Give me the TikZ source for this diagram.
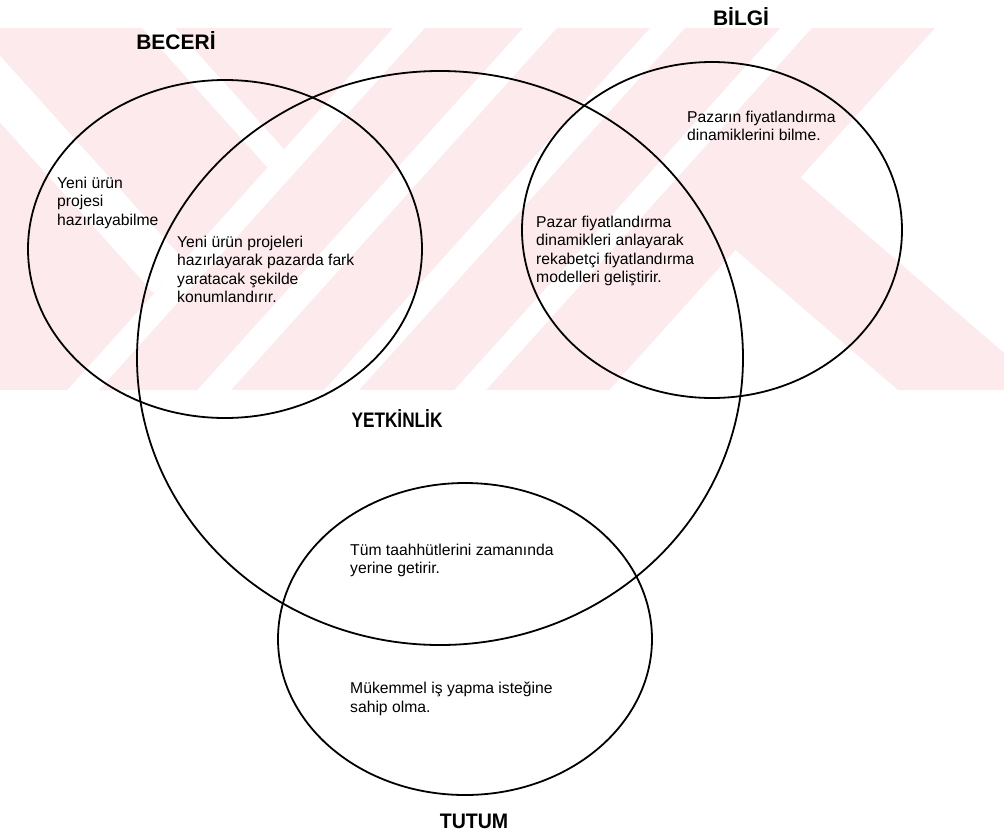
\documentclass[tikz,border=0pt]{standalone}
\usepackage{fontspec}
\setmainfont{Liberation Sans}
\usetikzlibrary{shapes.geometric}
\definecolor{wm}{RGB}{253,234,237}
\begin{document}
\begin{tikzpicture}[x=1pt,y=-1pt,
  venn/.style={draw=black, line width=1.8pt, ellipse, inner sep=0pt},
  txt/.style={anchor=north west, inner sep=0pt, align=left, font=\fontsize{15.7}{18.4}\selectfont},
  lbl/.style={anchor=base, inner sep=0pt, font=\fontsize{21}{24}\selectfont\bfseries}]
\useasboundingbox (0,0) rectangle (1004,833);
% watermark
\begin{scope}
  \clip (0,28) rectangle (1004,390);
  \begin{scope}
    \clip (0,28) -- (393,28) -- (67.2,390) -- (0,390) -- cycle;
    \fill[wm] (0,28) rectangle (1004,390);
    \fill[white] (142,28) -- (175,28) -- (500.8,390) -- (467.8,390) -- cycle;
    \fill[white] (-85,28) -- (-25,28) -- (300.8,390) -- (240.8,390) -- cycle;
  \end{scope}
  \fill[wm] (425,28) -- (523,28) -- (197.2,390) -- (99.2,390) -- cycle;
  \fill[wm] (557,28) -- (650,28) -- (324.2,390) -- (231.2,390) -- cycle;
  \fill[wm] (685,28) -- (780,28) -- (454.2,390) -- (359.2,390) -- cycle;
  \fill[wm] (812,28) -- (935,28) -- (609.2,390) -- (486.2,390) -- cycle;
  \begin{scope}
    \clip (935,28) -- (1004,28) -- (1004,390) -- (609.2,390) -- cycle;
    \fill[wm] (478,28) -- (627,28) -- (1047,390) -- (898,390) -- cycle;
  \end{scope}
\end{scope}
% circles
\node[venn, minimum width=394pt, minimum height=338pt] (beceri) at (225,249) {};
\node[venn, minimum width=606pt, minimum height=574pt] (yetkinlik) at (440,358) {};
\node[venn, minimum width=380pt, minimum height=336pt] (bilgi) at (712,230) {};
\node[venn, minimum width=374pt, minimum height=312pt] (tutum) at (465,639) {};
% labels
\node[lbl] (lbeceri) at (176,49) {BECERİ};
\node[lbl] (lbilgi) at (741,25) {BİLGİ};
\node[lbl] (lyetkinlik) at (397,427) {\scalebox{0.82}[1]{YETKİNLİK}};
\node[lbl] (ltutum) at (474,828) {\scalebox{0.93}[1]{TUTUM}};
% texts
\node[txt] (t1) at (57,177) {Yeni ürün\\projesi\\hazırlayabilme};
\node[txt] (t2) at (177,236) {Yeni ürün projeleri\\hazırlayarak pazarda fark\\yaratacak şekilde\\konumlandırır.};
\node[txt] (t3) at (687,111) {Pazarın fiyatlandırma\\dinamiklerini bilme.};
\node[txt] (t4) at (536,216) {Pazar fiyatlandırma\\dinamikleri anlayarak\\rekabetçi fiyatlandırma\\modelleri geliştirir.};
\node[txt] (t5) at (350,544) {Tüm taahhütlerini zamanında\\yerine getirir.};
\node[txt] (t6) at (350,682) {Mükemmel iş yapma isteğine\\sahip olma.};
\end{tikzpicture}
\end{document}
